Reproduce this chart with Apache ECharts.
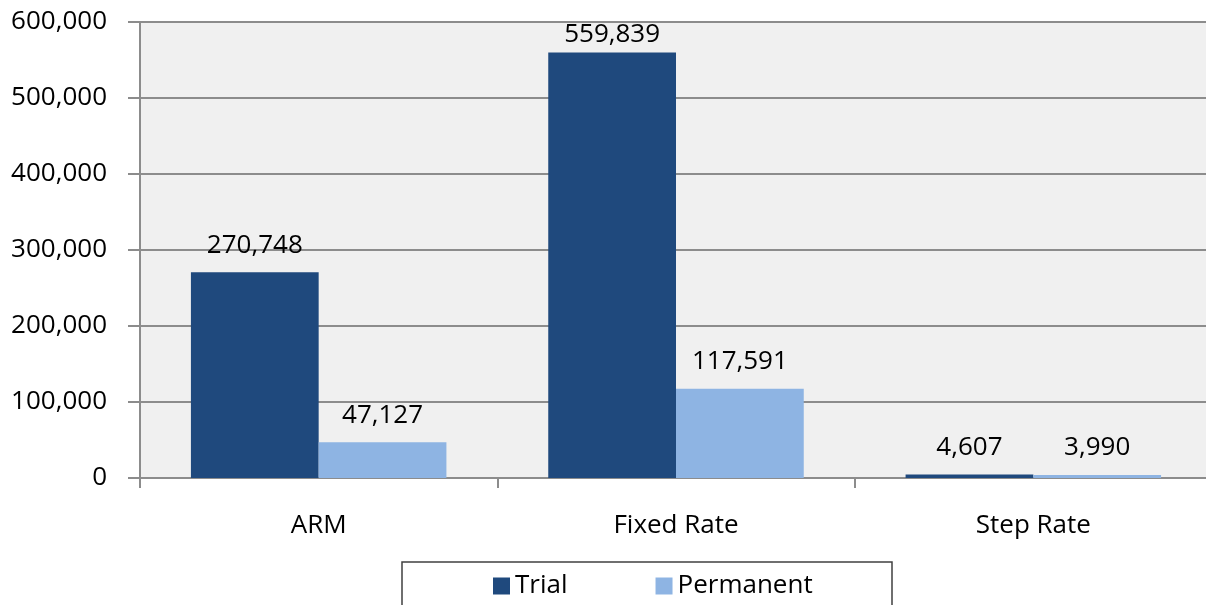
<!DOCTYPE html>
<html><head><meta charset="utf-8">
<script src="https://cdn.jsdelivr.net/npm/echarts@6/dist/echarts.min.js"></script>
<style>html,body{margin:0;padding:0;background:#fff}#c{width:1206px;height:605px}</style>
</head><body><div id="c"></div>
<script>
const categories = ['ARM', 'Fixed Rate', 'Step Rate'];
const trial = [270748, 559839, 4607];
const permanent = [47127, 117591, 3990];
const seriesNames = ['Trial', 'Permanent'];

const FONT = 'Open Sans';
const fmt = v => v.toLocaleString('en-US');
const chart = echarts.init(document.getElementById('c'));
const labelCfg = {show: true, position: 'top', distance: 14, color: '#000', fontFamily: FONT, fontSize: 26,
  formatter: p => fmt(p.value)};
// label near the top edge sits closer to its bar (as in the original)
const trialData = trial.map(v => v > 500000 ? {value: v, label: {distance: 5}} : v);
chart.setOption({
  animation: false,
  textStyle: {fontFamily: FONT},
  grid: {left: 140, width: 1072, top: 22, height: 456, outerBoundsMode: 'none', containLabel: false,
    show: true, backgroundColor: '#F0F0F0', borderWidth: 0},
  graphic: [{type: 'rect', shape: {x: 402, y: 562, width: 490, height: 60}, style: {fill: '#fff', stroke: '#404040', lineWidth: 1.5}, z: -1}],
  legend: {left: 488, top: 568, itemWidth: 17, itemHeight: 17, itemGap: 88, icon: 'rect',
    textStyle: {fontFamily: FONT, fontSize: 26, color: '#000'}, data: seriesNames},
  xAxis: {type: 'category', data: categories,
    axisLine: {lineStyle: {color: '#8c8c8c', width: 2}},
    axisTick: {show: true, length: 10, lineStyle: {color: '#8c8c8c', width: 2}},
    axisLabel: {margin: 35, color: '#000', fontFamily: FONT, fontSize: 26}},
  yAxis: {type: 'value', min: 0, max: 600000, interval: 100000,
    axisLine: {show: true, lineStyle: {color: '#8c8c8c', width: 2}},
    axisTick: {show: true, length: 12, lineStyle: {color: '#8c8c8c', width: 2}},
    splitLine: {lineStyle: {color: '#8c8c8c', width: 2}},
    axisLabel: {margin: 33, color: '#000', fontFamily: FONT, fontSize: 26, formatter: v => fmt(v)}},
  series: [
    {name: seriesNames[0], type: 'bar', data: trialData, itemStyle: {color: '#1F497D'}, barGap: '0%', barCategoryGap: '28.5%', label: labelCfg},
    {name: seriesNames[1], type: 'bar', data: permanent, itemStyle: {color: '#8EB4E3'}, label: labelCfg}
  ]
});
</script></body></html>
